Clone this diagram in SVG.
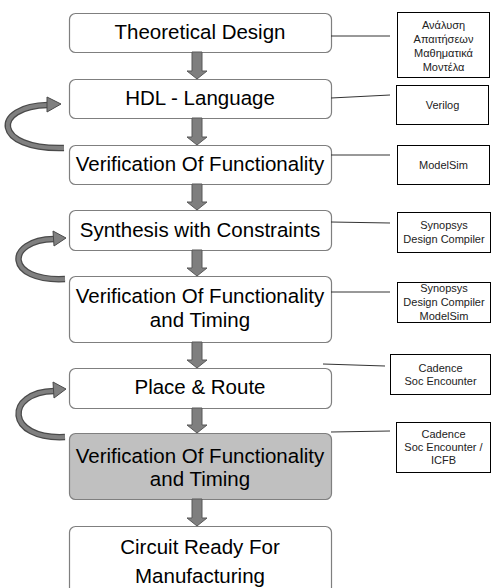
<svg xmlns="http://www.w3.org/2000/svg" width="492" height="588" viewBox="0 0 492 588">
  <style>
    .step { fill: #ffffff; stroke: #7f7f7f; stroke-width: 1.2; }
    .step.hl { fill: #c0c0c0; }
    .stepText { font-family: "Liberation Sans", Arial, sans-serif; font-size: 20.5px; fill: #000; text-anchor: middle; }
    .tool { fill: #ffffff; stroke: #000; stroke-width: 1; }
    .toolText { font-family: "Liberation Sans", Arial, sans-serif; font-size: 11px; fill: #222; text-anchor: middle; }
    .link { stroke: #333; stroke-width: 1; fill: none; }
    .down { fill: #7f7f7f; stroke: #595959; stroke-width: 1; }
    .loopOuter { fill: none; stroke: #4a4a4a; stroke-width: 6.5; stroke-linecap: butt; }
    .loopInner { fill: none; stroke: #808080; stroke-width: 4; stroke-linecap: butt; }
    .loopHead { fill: #808080; stroke: #4a4a4a; stroke-width: 1; stroke-linejoin: miter; }
  </style>

  <!-- design flow steps -->
  <g id="step-theoretical">
    <rect class="step" x="69.5" y="13.5" width="262" height="39" rx="6"/>
    <text class="stepText" x="200" y="39">Theoretical Design</text>
  </g>
  <g id="step-hdl">
    <rect class="step" x="69.5" y="79.5" width="262" height="39" rx="6"/>
    <text class="stepText" x="200" y="105">HDL - Language</text>
  </g>
  <g id="step-verif1">
    <rect class="step" x="69.5" y="145.5" width="262" height="39" rx="6"/>
    <text class="stepText" x="200" y="171">Verification Of Functionality</text>
  </g>
  <g id="step-synthesis">
    <rect class="step" x="69.5" y="210.5" width="262" height="40" rx="6"/>
    <text class="stepText" x="200" y="237">Synthesis with Constraints</text>
  </g>
  <g id="step-verif2">
    <rect class="step" x="69.5" y="276.5" width="262" height="66" rx="6"/>
    <text class="stepText" x="200" y="303">Verification Of Functionality</text>
    <text class="stepText" x="200" y="327">and Timing</text>
  </g>
  <g id="step-place-route">
    <rect class="step" x="69.5" y="368.5" width="262" height="40" rx="6"/>
    <text class="stepText" x="200" y="394">Place &amp; Route</text>
  </g>
  <g id="step-verif3">
    <rect class="step hl" x="69.5" y="433.5" width="262" height="66" rx="6"/>
    <text class="stepText" x="200" y="463">Verification Of Functionality</text>
    <text class="stepText" x="200" y="486">and Timing</text>
  </g>
  <g id="step-ready">
    <rect class="step" x="69.5" y="526.5" width="262" height="80" rx="6"/>
    <text class="stepText" x="200" y="554">Circuit Ready For</text>
    <text class="stepText" x="200" y="583">Manufacturing</text>
  </g>

  <!-- tools used at each step -->
  <g id="tool-analysis">
    <rect class="tool" x="397.5" y="12.5" width="92" height="65"/>
    <text class="toolText" x="443.5" y="29">Ανάλυση</text>
    <text class="toolText" x="443.5" y="43">Απαιτήσεων</text>
    <text class="toolText" x="443.5" y="57">Μαθηματικά</text>
    <text class="toolText" x="443.5" y="71">Μοντέλα</text>
  </g>
  <g id="tool-verilog">
    <rect class="tool" x="396.5" y="85.5" width="92" height="39"/>
    <text class="toolText" x="442.5" y="109">Verilog</text>
  </g>
  <g id="tool-modelsim">
    <rect class="tool" x="397.5" y="145.5" width="92" height="39"/>
    <text class="toolText" x="443.5" y="169">ModelSim</text>
  </g>
  <g id="tool-dc">
    <rect class="tool" x="397.5" y="212.5" width="93" height="40"/>
    <text class="toolText" x="444" y="229">Synopsys</text>
    <text class="toolText" x="444" y="243">Design Compiler</text>
  </g>
  <g id="tool-dc-modelsim">
    <rect class="tool" x="397.5" y="282.5" width="93" height="40"/>
    <text class="toolText" x="444" y="292">Synopsys</text>
    <text class="toolText" x="444" y="306">Design Compiler</text>
    <text class="toolText" x="444" y="320">ModelSim</text>
  </g>
  <g id="tool-soc">
    <rect class="tool" x="390.5" y="354.5" width="100" height="40"/>
    <text class="toolText" x="440.5" y="372">Cadence</text>
    <text class="toolText" x="440.5" y="385">Soc Encounter</text>
  </g>
  <g id="tool-soc-icfb">
    <rect class="tool" x="396.5" y="422.5" width="94" height="50"/>
    <text class="toolText" x="443.5" y="438">Cadence</text>
    <text class="toolText" x="443.5" y="451">Soc Encounter /</text>
    <text class="toolText" x="443.5" y="464">ICFB</text>
  </g>

  <g id="connectors">
    <!-- step to tool links -->
    <line class="link" x1="331" y1="36" x2="390" y2="36"/>
    <line class="link" x1="331" y1="98" x2="390" y2="95"/>
    <line class="link" x1="331" y1="155" x2="390" y2="155"/>
    <line class="link" x1="331" y1="222" x2="390" y2="223"/>
    <line class="link" x1="331" y1="292" x2="390" y2="292"/>
    <line class="link" x1="323" y1="364" x2="385" y2="366"/>
    <line class="link" x1="331" y1="432" x2="390" y2="431"/>

    <!-- downward block arrows -->
    <polygon class="down" points="192,52 202,52 202,71 207,71 197,79 187,71 192,71"/>
    <polygon class="down" points="192,118 202,118 202,137 207,137 197,145 187,137 192,137"/>
    <polygon class="down" points="192,184 202,184 202,202 207,202 197,210 187,202 192,202"/>
    <polygon class="down" points="192,250 202,250 202,268 207,268 197,276 187,268 192,268"/>
    <polygon class="down" points="192,342 202,342 202,360 207,360 197,368 187,360 192,360"/>
    <polygon class="down" points="192,408 202,408 202,425 207,425 197,433 187,425 192,425"/>
    <polygon class="down" points="192,499 202,499 202,518 207,518 197,526 187,518 192,518"/>

    <!-- iteration loops -->
    <path class="loopOuter" d="M 64 148 C -8 150, -8 106, 48 105"/>
    <path class="loopInner" d="M 64 148 C -8 150, -8 106, 48 105"/>
    <polygon class="loopHead" points="47,97 61,104 47,112"/>

    <path class="loopOuter" d="M 65 279 C 5 282, 5 240, 54 239"/>
    <path class="loopInner" d="M 65 279 C 5 282, 5 240, 54 239"/>
    <polygon class="loopHead" points="53,231 66,238 54,246"/>

    <path class="loopOuter" d="M 65 437 C 5 440, 5 392, 54 391"/>
    <path class="loopInner" d="M 65 437 C 5 440, 5 392, 54 391"/>
    <polygon class="loopHead" points="53,382 66,389 54,398"/>
  </g>
</svg>
